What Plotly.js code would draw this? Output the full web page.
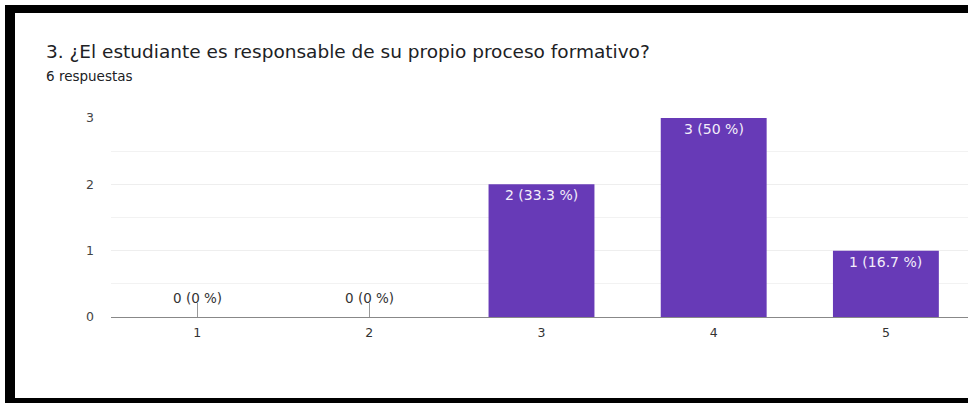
<!DOCTYPE html>
<html>
<head>
<meta charset="utf-8">
<script src="https://cdn.plot.ly/plotly-3.0.1.min.js"></script>
<style>
  html, body { margin: 0; padding: 0; background: #fff; overflow: hidden; width: 968px; height: 403px; }
  #plot { position: absolute; left: 0; top: 0; width: 1000px; height: 403px; }
  .frame { position: absolute; background: #000; }
</style>
</head>
<body>
<div id="plot"></div>
<div class="frame" style="left:5px; top:5px; width:963px; height:8px;"></div>
<div class="frame" style="left:5px; top:5px; width:10px; height:398px;"></div>
<div class="frame" style="left:5px; top:398px; width:963px; height:5px;"></div>
<script>
const titleText = '3. ¿El estudiante es responsable de su propio proceso formativo?';
const subtitleText = '6 respuestas';
const categories = ['1', '2', '3', '4', '5'];
const counts = [0, 0, 2, 3, 1];
const percents = ['0 %', '0 %', '33.3 %', '50 %', '16.7 %'];
const yTickVals = [0, 1, 2, 3];

const W = 1000, H = 403;
const mL = 111, mR = 28, mT = 118, mB = 86;
const plotW = W - mL - mR;
const plotH = H - mT - mB;
const FONT = '"DejaVu Sans", Roboto, Arial, sans-serif';

const labelAnnotations = categories.map((c, i) => ({
  x: i, y: counts[i], xref: 'x', yref: 'y',
  text: counts[i] + ' (' + percents[i] + ')',
  showarrow: false,
  yanchor: counts[i] > 0 ? 'top' : 'bottom',
  yshift: counts[i] > 0 ? -1 : 9,
  font: { family: FONT, size: counts[i] > 0 ? 14 : 13.5, color: counts[i] > 0 ? '#f3eefa' : '#333333' }
}));

const data = [{
  type: 'bar',
  x: categories,
  y: counts,
  marker: { color: '#673ab7', line: { width: 0 } },
  hoverinfo: 'none'
}];

const layout = {
  width: W, height: H,
  margin: { l: mL, r: mR, t: mT, b: mB, pad: 0 },
  paper_bgcolor: '#ffffff',
  plot_bgcolor: '#ffffff',
  showlegend: false,
  bargap: 0.385,
  font: { family: FONT, color: '#444444' },
  xaxis: {
    type: 'category',
    categoryorder: 'array', categoryarray: categories,
    range: [-0.5, categories.length - 0.5],
    showgrid: false,
    showline: true, linecolor: '#888888', linewidth: 1,
    ticks: 'inside', ticklen: 14, tickcolor: '#999999', tickwidth: 1,
    ticklabelstandoff: 4,
    tickfont: { size: 12.5, color: '#333333' },
    layer: 'below traces',
    zeroline: false,
    fixedrange: true
  },
  yaxis: {
    range: [0, 3],
    tickvals: yTickVals,
    showgrid: true, gridcolor: '#eeeeee', gridwidth: 1,
    minor: { dtick: 0.5, showgrid: true, gridcolor: '#f2f2f2', gridwidth: 1 },
    zeroline: false,
    showline: false,
    ticks: '',
    ticklabelstandoff: 16,
    tickfont: { size: 12.5, color: '#444444' },
    fixedrange: true
  },
  annotations: [
    {
      xref: 'paper', yref: 'paper',
      x: (44 - mL) / plotW, y: (H - mB - 52) / plotH,
      xanchor: 'left', yanchor: 'middle',
      text: titleText, showarrow: false,
      font: { family: FONT, size: 18.5, color: '#202124' }
    },
    {
      xref: 'paper', yref: 'paper',
      x: (44 - mL) / plotW, y: (H - mB - 76) / plotH,
      xanchor: 'left', yanchor: 'middle',
      text: subtitleText, showarrow: false,
      font: { family: FONT, size: 13.5, color: '#202124' }
    }
  ].concat(labelAnnotations)
};

Plotly.newPlot('plot', data, layout, { staticPlot: true, displayModeBar: false });
</script>
</body>
</html>
